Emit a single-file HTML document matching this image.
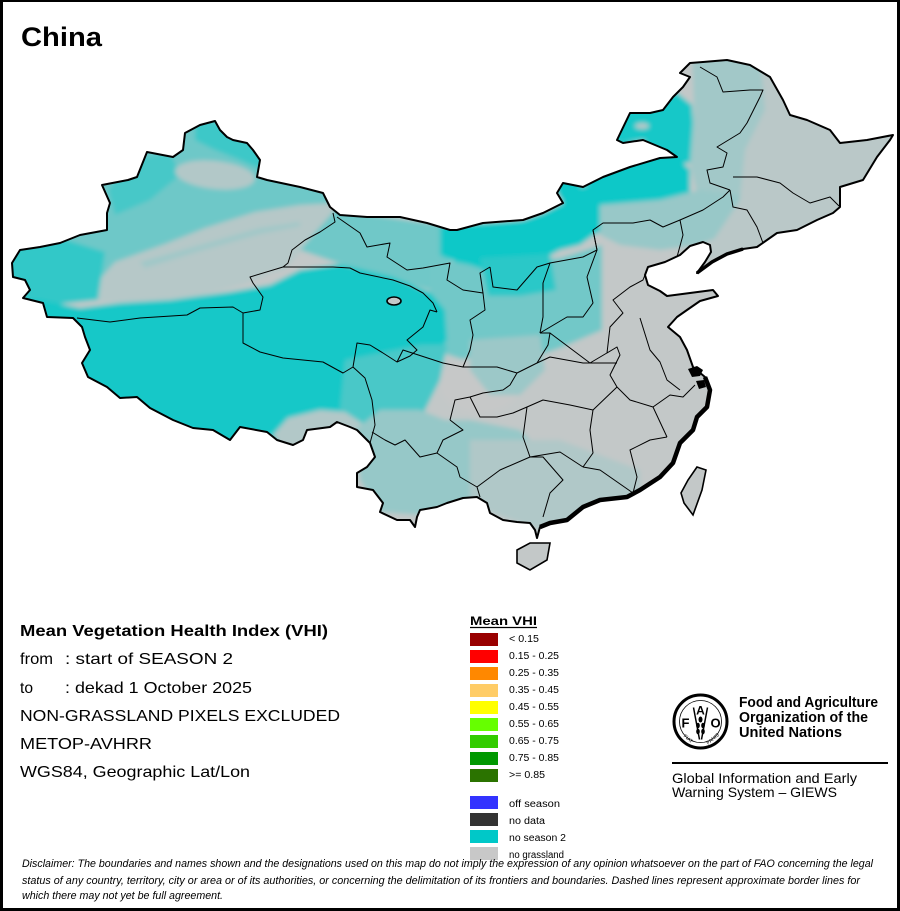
<!DOCTYPE html>
<html><head><meta charset="utf-8"><style>
html,body{margin:0;padding:0;background:#fff;}
#wrap{position:relative;width:900px;height:911px;overflow:hidden;background:#fff;}
#frame{position:absolute;left:0;top:0;width:894px;height:906px;border-left:3px solid #000;border-top:2px solid #000;border-right:3px solid #000;border-bottom:3px solid #000;}
svg{position:absolute;left:0;top:0;}
text{font-family:"Liberation Sans",Arial,sans-serif;}
</style></head><body><div id="wrap">
<svg width="900" height="911" viewBox="0 0 900 911" xmlns="http://www.w3.org/2000/svg">
<defs>
<clipPath id="cn"><path id="outlineShape" d="M200,125 L215,121 L220,130 L227,137 L233,140 L247,143 L253,150 L260,160 L257,177 L267,180 L300,187 L323,193 L330,207 L340,215 L367,217 L400,217 L427,223 L450,230 L457,230 L483,223 L523,220 L543,213 L563,203 L557,193 L563,183 L583,187 L603,177 L630,167 L660,158 L677,157 L667,150 L643,140 L623,143 L617,140 L630,113 L650,113 L663,110 L673,97 L683,87 L690,77 L680,73 L690,63 L703,62 L727,60 L750,65 L770,77 L783,100 L790,115 L807,120 L830,130 L840,143 L867,140 L893,135 L890,140 L877,157 L863,180 L840,187 L840,207 L833,213 L817,220 L797,230 L777,233 L757,247 L743,249 L727,254 L712,262 L697,273 L705,262 L711,252 L710,245 L703,242 L690,246 L680,255 L665,262 L648,267 L645,275 L648,285 L660,291 L667,296 L690,293 L713,290 L718,296 L700,301 L687,310 L677,317 L668,327 L680,337 L687,350 L693,367 L705,377 L710,390 L707,407 L697,417 L693,430 L680,443 L673,463 L660,477 L640,490 L627,497 L600,500 L583,507 L567,520 L550,523 L540,527 L537,538 L535,530 L530,523 L517,522 L503,520 L490,513 L487,503 L477,497 L463,498 L447,503 L437,507 L420,510 L417,517 L415,527 L410,520 L397,520 L380,512 L383,503 L373,490 L357,487 L357,473 L367,467 L375,457 L370,443 L357,430 L350,427 L337,422 L330,427 L307,430 L303,440 L293,445 L277,440 L267,432 L240,427 L230,440 L213,430 L193,428 L173,420 L150,408 L137,397 L120,398 L107,387 L88,377 L82,363 L90,350 L85,337 L82,327 L73,318 L47,317 L43,303 L23,298 L30,290 L25,280 L13,277 L12,263 L20,250 L40,247 L60,243 L80,235 L107,230 L107,213 L110,203 L102,185 L128,180 L137,177 L147,152 L173,157 L183,150 L185,133 Z"/></clipPath>
<filter id="bl" x="-5%" y="-5%" width="110%" height="110%"><feGaussianBlur stdDeviation="2.5"/></filter>
</defs>

<g clip-path="url(#cn)">
 <g filter="url(#bl)">
  <rect x="0" y="40" width="900" height="560" fill="#c3c8c8"/>
  <!-- Xinjiang mixed -->
  <polygon points="0,100 345,100 345,225 300,245 285,268 250,280 0,300" fill="#6ec8c8"/>
  <polygon points="195,118 230,125 262,150 262,170 240,160 215,150 195,140" fill="#3cc8c8"/>
  <polygon points="130,160 170,152 180,175 150,200 115,215 108,190" fill="#46c8c8"/>
  <ellipse cx="215" cy="175" rx="40" ry="14" transform="rotate(6 215 175)" fill="#b2c8c8"/>
  <polygon points="92,288 115,262 165,244 205,228 255,212 300,205 336,203 338,226 305,246 288,266 245,284 200,296 150,302 100,302" fill="#b6c8c8"/>
  <polygon points="140,262 200,245 260,228 300,222 300,226 260,234 200,251 145,268" fill="#a0c8c8"/>
  <polygon points="8,245 60,238 105,252 98,300 40,306 8,292" fill="#30c8c8"/>
  <!-- Alxa / Gansu corridor -->
  <polygon points="335,210 450,226 450,265 430,290 380,275 335,262 300,250" fill="#70c8c8"/>
  <!-- Loess plateau mixed -->
  <polygon points="430,262 480,262 560,258 602,245 602,330 560,348 520,362 470,362 440,352 430,300" fill="#72c8c8"/>
  <!-- Tibet / Qinghai -->
  <polygon points="0,300 40,300 80,308 120,303 170,300 230,292 270,285 300,270 340,264 390,276 430,292 445,310 447,340 428,365 405,392 385,405 365,415 345,417 300,430 260,450 0,450" fill="#12c8c8"/>
  <polygon points="345,360 420,345 447,345 440,380 420,420 400,440 360,432 340,410" fill="#4ac8c8"/>
  <polygon points="272,436 288,418 320,410 345,412 365,425 372,448 300,455" fill="#b2c8c8"/>
  <!-- Inner Mongolia band -->
  <polygon points="440,226 483,223 523,220 543,213 563,203 557,193 563,183 583,187 603,177 630,167 660,158 677,157 690,170 690,195 670,205 650,212 630,220 610,228 595,234 580,245 560,250 545,258 530,262 515,270 500,275 485,270 470,265 455,262 440,255" fill="#0cc8c8"/>
  <polygon points="445,150 700,140 700,160 560,190 450,226" fill="#0cc8c8"/>
  <polygon points="480,258 550,254 556,290 520,296 488,296" fill="#2ac8c8"/>
  <!-- Hulunbuir -->
  <polygon points="600,140 628,105 663,100 676,92 692,105 694,135 690,162 677,157 660,150 643,140 623,143" fill="#14c8c8"/>
  <ellipse cx="642" cy="126" rx="7" ry="3" fill="#b8c8c8"/>
  <!-- NE mixed -->
  <polygon points="692,50 760,50 765,110 745,150 740,200 700,205 690,165 694,110" fill="#a2c8c8"/>
  <polygon points="600,205 660,200 700,190 740,195 735,230 700,245 660,250 620,245 600,235" fill="#98c8c8"/>
  <polygon points="760,50 900,50 900,250 700,260 740,200 745,150 765,110" fill="#bac8c8"/>
  <!-- Sichuan basin gray -->
  <ellipse cx="480" cy="385" rx="40" ry="28" fill="#c6c8c8"/>
  <!-- Shaanxi south / Hubei west -->
  <polygon points="470,340 540,335 545,370 520,395 490,395 470,370" fill="#9cc8c8"/>
  <!-- Yunnan / Guizhou -->
  <polygon points="355,430 380,410 420,410 445,420 470,420 520,430 540,450 520,480 470,500 420,515 380,512 360,480" fill="#96c8c8"/>
  <!-- Guangxi / Guangdong -->
  <polygon points="470,440 560,440 640,470 640,500 540,530 470,505" fill="#b0c8c8"/>
 </g>
</g>

<!-- province boundaries -->
<g fill="none" stroke="#000" stroke-width="1" stroke-linejoin="round">
<polyline points="333,213 335,222 320,232 305,240 292,250 288,263 283,267"/>
<polyline points="77,318 110,322 140,318 187,315 200,308 233,307 243,313 260,310 263,297 253,283 250,277 283,267 333,267 350,268 360,273 393,280 410,286 423,293 433,303 437,312"/>
<polyline points="243,313 243,343 260,352 283,358 323,362 343,373 353,367 357,343 370,345 383,353 397,362 410,356 417,350 407,340 423,327 430,310 437,312"/>
<polyline points="353,367 365,378 372,400 375,425 370,443"/>
<polyline points="372,432 385,440 395,445 405,440 420,457 437,453"/>
<polyline points="397,362 403,350 443,363 463,367 497,367 517,373"/>
<polyline points="337,217 360,233 367,247 390,243 387,257 407,270 423,268 450,263 447,280 463,290 483,293 480,273 490,267"/>
<polyline points="490,267 493,287 517,290 537,267 550,263 583,257 597,250 593,230 603,223 633,223 650,220 663,227 680,220 703,210 723,197 730,190"/>
<polyline points="730,190 710,183 707,170 723,167 727,153 717,147 740,133 747,123 760,97 763,90 750,90 723,92 717,77 700,67"/>
<polyline points="733,177 757,177 780,183 793,193 810,203 830,197 840,207"/>
<polyline points="730,190 733,207 747,210 757,227 763,243"/>
<polyline points="680,220 683,235 677,257"/>
<polyline points="593,230 597,250 587,277 593,303 583,317 567,317 540,333"/>
<polyline points="550,263 543,283 543,317 540,333"/>
<polyline points="483,293 485,310 470,320 473,335 470,350 463,367"/>
<polyline points="540,333 550,333 548,345 537,363 517,373"/>
<polyline points="550,333 590,363 617,347 607,353 610,327 623,313 613,300 630,287 643,280 648,267"/>
<polyline points="537,363 550,357 583,363 617,363"/>
<polyline points="617,347 620,355 610,375 617,387 630,400 653,407 667,437"/>
<polyline points="640,318 650,350 660,362 667,380 680,390"/>
<polyline points="653,407 670,395 683,397 695,385"/>
<polyline points="667,437 650,440 630,450 637,477 633,493"/>
<polyline points="593,410 590,430 593,453 583,467"/>
<polyline points="527,407 543,400 570,405 593,410 617,387"/>
<polyline points="470,397 480,417 497,417 513,413 527,407 523,437 530,457"/>
<polyline points="517,373 510,385 503,390 483,393 470,397 455,400 450,420"/>
<polyline points="450,420 463,430 443,440 437,453 457,467 460,477 477,487 480,497"/>
<polyline points="530,457 543,457 563,480 550,493 543,517"/>
<polyline points="477,487 500,470 530,457 560,452 583,467"/>
<polyline points="583,467 600,470 633,493"/>
</g>

<!-- outline -->
<use href="#outlineShape" fill="none" stroke="#000" stroke-width="2" stroke-linejoin="round"/>
<polyline points="705,377 710,390 707,407 697,417 693,430 680,443 673,463 660,477 640,490 627,497 600,500 583,507 567,520 550,523 540,527" fill="none" stroke="#000" stroke-width="4.5" stroke-linejoin="round"/>
<polyline points="697,273 712,262 727,254 743,249" fill="none" stroke="#000" stroke-width="3.5"/>
<path d="M688,369 L697,366 L703,370 L700,376 L692,377 Z" fill="#000"/>
<path d="M696,381 L704,380 L706,387 L699,389 Z" fill="#000"/>
<ellipse cx="394" cy="301" rx="7" ry="4" fill="#c3c8c8" stroke="#000" stroke-width="1.6"/>
<polygon points="517,550 530,543 550,543 547,560 530,570 517,563" fill="#c3c8c8" stroke="#000" stroke-width="1.6"/>
<polygon points="697,467 706,470 702,490 693,515 684,503 681,493 688,480" fill="#c3c8c8" stroke="#000" stroke-width="1.6"/>

<!-- title -->
<text x="21" y="46" font-size="27" font-weight="bold" textLength="81" lengthAdjust="spacingAndGlyphs">China</text>

<!-- left info block -->
<g font-size="16">
<text x="20" y="636" font-weight="bold" textLength="308" lengthAdjust="spacingAndGlyphs">Mean Vegetation Health Index (VHI)</text>
<text x="20" y="664" textLength="33" lengthAdjust="spacingAndGlyphs">from</text>
<text x="65" y="664" textLength="168" lengthAdjust="spacingAndGlyphs">: start of SEASON 2</text>
<text x="20" y="693" textLength="13" lengthAdjust="spacingAndGlyphs">to</text>
<text x="65" y="693" textLength="187" lengthAdjust="spacingAndGlyphs">: dekad 1 October 2025</text>
<text x="20" y="721" textLength="320" lengthAdjust="spacingAndGlyphs">NON-GRASSLAND PIXELS EXCLUDED</text>
<text x="20" y="749" textLength="132" lengthAdjust="spacingAndGlyphs">METOP-AVHRR</text>
<text x="20" y="777" textLength="230" lengthAdjust="spacingAndGlyphs">WGS84, Geographic Lat/Lon</text>
</g>

<!-- legend -->
<text x="470" y="625" font-size="12" font-weight="bold" textLength="67" lengthAdjust="spacingAndGlyphs">Mean VHI</text>
<line x1="470" y1="627.5" x2="537" y2="627.5" stroke="#000" stroke-width="1.2"/>
<g>
<rect x="470" y="633" width="28" height="13" fill="#990000"/>
<rect x="470" y="650" width="28" height="13" fill="#ff0000"/>
<rect x="470" y="667" width="28" height="13" fill="#ff8800"/>
<rect x="470" y="684" width="28" height="13" fill="#ffcc66"/>
<rect x="470" y="701" width="28" height="13" fill="#ffff00"/>
<rect x="470" y="718" width="28" height="13" fill="#66ff00"/>
<rect x="470" y="735" width="28" height="13" fill="#33cc00"/>
<rect x="470" y="752" width="28" height="13" fill="#009900"/>
<rect x="470" y="769" width="28" height="13" fill="#2b7300"/>
<rect x="470" y="796" width="28" height="13" fill="#3333ff"/>
<rect x="470" y="813" width="28" height="13" fill="#333333"/>
<rect x="470" y="830" width="28" height="13" fill="#00c8c8"/>
<rect x="470" y="847" width="28" height="13" fill="#c8c8c8"/>
</g>
<g font-size="10">
<text x="509" y="642" textLength="30" lengthAdjust="spacingAndGlyphs">&lt; 0.15</text>
<text x="509" y="659" textLength="50" lengthAdjust="spacingAndGlyphs">0.15 - 0.25</text>
<text x="509" y="676" textLength="50" lengthAdjust="spacingAndGlyphs">0.25 - 0.35</text>
<text x="509" y="693" textLength="50" lengthAdjust="spacingAndGlyphs">0.35 - 0.45</text>
<text x="509" y="710" textLength="50" lengthAdjust="spacingAndGlyphs">0.45 - 0.55</text>
<text x="509" y="727" textLength="50" lengthAdjust="spacingAndGlyphs">0.55 - 0.65</text>
<text x="509" y="744" textLength="50" lengthAdjust="spacingAndGlyphs">0.65 - 0.75</text>
<text x="509" y="761" textLength="50" lengthAdjust="spacingAndGlyphs">0.75 - 0.85</text>
<text x="509" y="778" textLength="36" lengthAdjust="spacingAndGlyphs">&gt;= 0.85</text>
<text x="509" y="807" textLength="51" lengthAdjust="spacingAndGlyphs">off season</text>
<text x="509" y="824" textLength="36" lengthAdjust="spacingAndGlyphs">no data</text>
<text x="509" y="841" textLength="57" lengthAdjust="spacingAndGlyphs">no season 2</text>
<text x="509" y="858" textLength="55" lengthAdjust="spacingAndGlyphs">no grassland</text>
</g>

<!-- FAO logo -->
<g transform="translate(700.5,721.5)">
<circle r="26.5" fill="none" stroke="#000" stroke-width="3"/>
<circle r="21" fill="none" stroke="#000" stroke-width="0.8"/>
<text x="-15" y="6" font-size="13" font-weight="bold" text-anchor="middle">F</text>
<text x="0" y="-7" font-size="12" font-weight="bold" text-anchor="middle">A</text>
<text x="15" y="6" font-size="13" font-weight="bold" text-anchor="middle">O</text>
<line x1="-7" y1="-14" x2="-1" y2="18" stroke="#000" stroke-width="1.5"/>
<line x1="7" y1="-14" x2="1" y2="18" stroke="#000" stroke-width="1.5"/>
<ellipse cx="0" cy="-2" rx="2" ry="3" fill="#000"/>
<ellipse cx="-2.5" cy="4" rx="1.8" ry="2.8" fill="#000"/>
<ellipse cx="2.5" cy="4" rx="1.8" ry="2.8" fill="#000"/>
<ellipse cx="-2.5" cy="10" rx="1.8" ry="2.8" fill="#000"/>
<ellipse cx="2.5" cy="10" rx="1.8" ry="2.8" fill="#000"/>
<text x="-12" y="19" font-size="5" transform="rotate(40 -12 17)" text-anchor="middle">FIAT</text>
<text x="12" y="19" font-size="5" transform="rotate(-40 12 17)" text-anchor="middle">PANIS</text>
</g>
<g font-size="14.5" font-weight="bold">
<text x="739" y="707" textLength="139" lengthAdjust="spacingAndGlyphs">Food and Agriculture</text>
<text x="739" y="722" textLength="129" lengthAdjust="spacingAndGlyphs">Organization of the</text>
<text x="739" y="737" textLength="103" lengthAdjust="spacingAndGlyphs">United Nations</text>
</g>
<line x1="672" y1="763" x2="888" y2="763" stroke="#000" stroke-width="2"/>
<g font-size="14">
<text x="672" y="783" textLength="185" lengthAdjust="spacingAndGlyphs">Global Information and Early</text>
<text x="672" y="797" textLength="165" lengthAdjust="spacingAndGlyphs">Warning System – GIEWS</text>
</g>

<!-- disclaimer -->
<g font-size="11" font-style="italic">
<text x="22" y="867" textLength="851" lengthAdjust="spacingAndGlyphs">Disclaimer: The boundaries and names shown and the designations used on this map do not imply the expression of any opinion whatsoever on the part of FAO concerning the legal</text>
<text x="22" y="884" textLength="838" lengthAdjust="spacingAndGlyphs">status of any country, territory, city or area or of its authorities, or concerning the delimitation of its frontiers and boundaries. Dashed lines represent approximate border lines for</text>
<text x="22" y="899" textLength="201" lengthAdjust="spacingAndGlyphs">which there may not yet be full agreement.</text>
</g>
</svg>
<div id="frame"></div>
</div></body></html>
